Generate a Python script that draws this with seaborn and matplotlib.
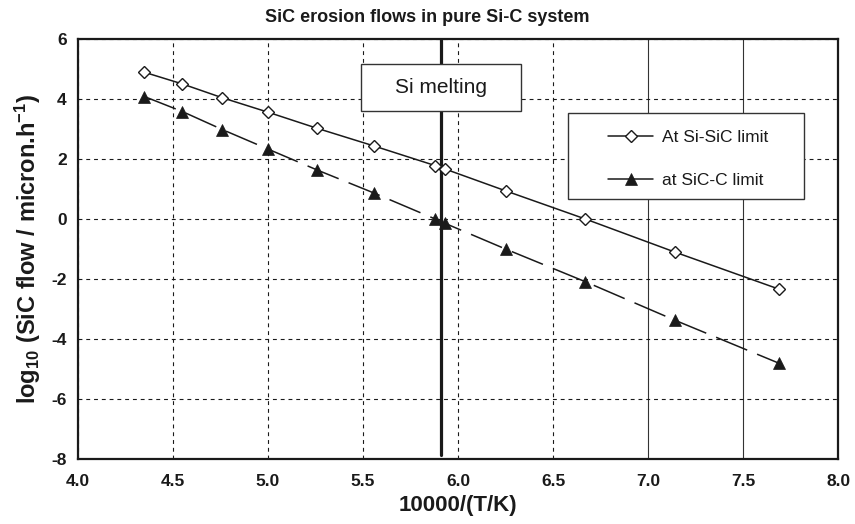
import matplotlib
matplotlib.use("Agg")
import matplotlib.pyplot as plt
from matplotlib.patches import Rectangle
import numpy as np
import pandas as pd
import seaborn as sns

# 10000/T (K) for the computed temperatures
inv_temp = [4.35, 4.55, 4.76, 5.00, 5.26, 5.56, 5.88, 5.93, 6.25, 6.67, 7.14, 7.69]
# log10 of SiC flow (micron/h) at both phase limits
flow_si_sic = [4.89, 4.50, 4.04, 3.56, 3.02, 2.43, 1.78, 1.67, 0.94, 0.00, -1.10, -2.34]
flow_sic_c = [4.08, 3.58, 2.98, 2.33, 1.63, 0.86, 0.00, -0.14, -1.00, -2.09, -3.37, -4.81]

series_names = ["At Si-SiC limit", "at SiC-C limit"]
si_melting_x = 5.91
x_ticks = [4.0, 4.5, 5.0, 5.5, 6.0, 6.5, 7.0, 7.5, 8.0]
y_ticks = [-8, -6, -4, -2, 0, 2, 4, 6]

df = pd.DataFrame({
    "x": inv_temp * 2,
    "y": flow_si_sic + flow_sic_c,
    "series": [series_names[0]] * len(inv_temp) + [series_names[1]] * len(inv_temp),
})

sns.set_theme(style="white")
plt.rcParams["font.family"] = ["Liberation Sans", "DejaVu Sans"]
plt.rcParams["mathtext.fontset"] = "custom"
plt.rcParams["mathtext.rm"] = "Liberation Sans:bold"
plt.rcParams["mathtext.it"] = "Liberation Sans:bold"
plt.rcParams["mathtext.bf"] = "Liberation Sans:bold"
plt.rcParams["mathtext.default"] = "rm"

fig = plt.figure(figsize=(8.55, 5.24), dpi=100)
ax = fig.add_axes([0.0912, 0.124, 0.889, 0.8016])

ink = "#1a1a1a"

ax.set_xlim(4.0, 8.0)
ax.set_ylim(-8, 6)
ax.set_xticks(x_ticks)
ax.set_yticks(y_ticks)
ax.set_xticklabels([f"{v:.1f}" for v in x_ticks])
ax.set_yticklabels([str(v) for v in y_ticks])

# grid: short dashes, the two right-most verticals drawn solid
ax.grid(True, color=ink, linestyle=(0, (3.5, 3.5)), linewidth=0.8, zorder=0)
for gl, xv in zip(ax.get_xgridlines(), x_ticks):
    if xv >= 7.0:
        gl.set_linestyle("-")
        gl.set_linewidth(0.8)
        gl.set_color("#333333")
ax.set_axisbelow(True)

for side in ["left", "bottom", "top", "right"]:
    ax.spines[side].set_visible(True)
    ax.spines[side].set_color(ink)
    ax.spines[side].set_linewidth(1.6)

ax.tick_params(axis="both", direction="out", length=3, width=1.2, color=ink,
               labelsize=12.5, labelcolor=ink)
ax.tick_params(axis="x", pad=8)
ax.tick_params(axis="y", pad=5)
for lab in ax.get_xticklabels() + ax.get_yticklabels():
    lab.set_fontweight("bold")

# Si melting line
ax.axvline(si_melting_x, ymin=0.01, ymax=1.0, color=ink, linewidth=2.3, zorder=2)

sns.lineplot(data=df[df["series"] == series_names[0]], x="x", y="y", ax=ax,
             color=ink, linewidth=1.1, marker="D", markersize=6.5,
             markerfacecolor="white", markeredgecolor=ink, markeredgewidth=1.0,
             label=series_names[0], zorder=3)
sns.lineplot(data=df[df["series"] == series_names[1]], x="x", y="y", ax=ax,
             color=ink, linewidth=1.1, marker="^", markersize=9,
             markerfacecolor=ink, markeredgecolor=ink, markeredgewidth=0.5,
             label=series_names[1], zorder=3)
ax.lines[-1].set_linestyle((0, (22, 7)))

# Si melting annotation box
ax.add_patch(Rectangle((5.49, 3.61), 0.84, 1.56, facecolor="white",
                       edgecolor="#333333", linewidth=1.0, zorder=4))
ax.text(5.91, 4.39, "Si melting", ha="center", va="center", fontsize=15,
        color=ink, zorder=5)

# legend frame and entries
ax.add_patch(Rectangle((6.58, 0.67), 1.24, 2.86, facecolor="white",
                       edgecolor="#333333", linewidth=1.0, zorder=4))
leg = ax.legend(loc="upper left", bbox_to_anchor=(6.79, 2.96),
                bbox_transform=ax.transData, frameon=False, fontsize=12.5,
                handlelength=2.6, handletextpad=0.5, labelspacing=1.57,
                borderpad=0.0, borderaxespad=0.0)
leg.set_zorder(5)
for h in leg.legend_handles:
    h.set_linestyle("-")
for t in leg.get_texts():
    t.set_color(ink)

ax.set_xlabel("10000/(T/K)", fontsize=16, fontweight="bold", color=ink, labelpad=4)
ax.set_ylabel(r"log$_{10}$ (SiC flow / micron.h$^{-1}$)", fontsize=17,
              fontweight="bold", color=ink, labelpad=6)
fig.text(0.5, 0.967, "SiC erosion flows in pure Si-C system", ha="center",
         va="center", fontsize=13, fontweight="bold", color=ink)

fig.savefig("out.png", dpi=100)
